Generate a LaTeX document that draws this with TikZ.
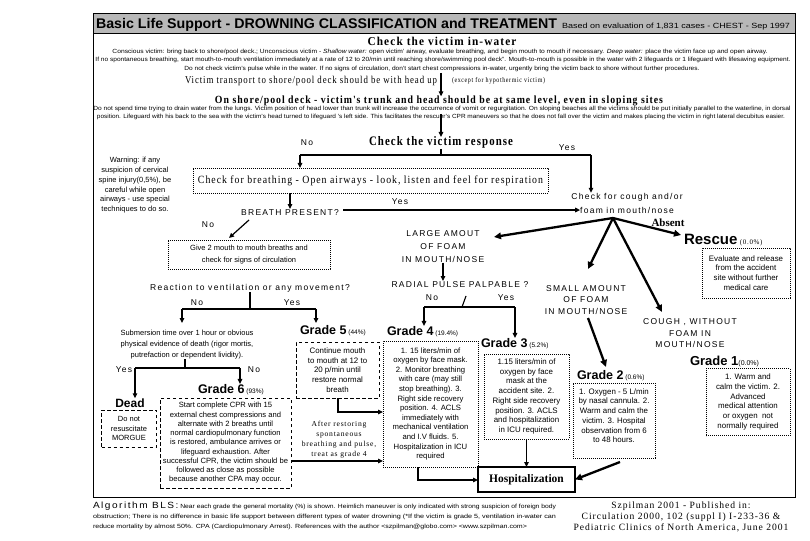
\documentclass[tikz,border=0pt]{standalone}
\usepackage{fontspec}
\usepackage{graphicx}
\setmainfont{Liberation Serif}
\setsansfont{Liberation Sans}
\newfontfamily\sfls{Liberation Sans}[LetterSpace=15]
\newfontfamily\rmls{Liberation Serif}[LetterSpace=10]
\usetikzlibrary{arrows.meta}
\newcommand\fitw[2]{\resizebox{#1pt}{\height}{#2}}
\newcommand\fsz[1]{\fontsize{#1}{#1}\selectfont}
\newcommand\fszl[2]{\fontsize{#1}{#2}\selectfont}
\begin{document}
\begin{tikzpicture}[x=1pt,y=-1pt,
  every node/.style={inner sep=0pt,outer sep=0pt},
  lab/.style={font=\sfls\fsz{8.5}},
  arr/.style={-{Triangle[length=5pt,width=4.5pt]},line width=1.2pt},
  bigarr/.style={-{Triangle[length=7pt,width=6.5pt]},line width=2.3pt},
  plain/.style={line width=1.1pt},
  dotbox/.style={draw,line width=0.7pt,dash pattern=on 0.7pt off 1.3pt},
  dashbox/.style={draw,line width=0.8pt,dash pattern=on 3.5pt off 2.5pt},
  boxtxt/.style={align=center,font=\sffamily\fszl{7.9}{9.7}},
  gradeh/.style={anchor=base west,font=\sffamily\bfseries\fsz{12.5}},
  small/.style={font=\sffamily\fsz{6}},
]
\useasboundingbox (0,0) rectangle (810,540);
% frame and title band
\fill[black!28] (93,13) rectangle (795,33);
\draw[line width=0.8pt] (93,13) rectangle (795,497);
\draw[line width=0.8pt] (93,33) -- (795,33);
\node[anchor=base west,font=\sffamily\bfseries\fsz{14}] (title) at (96,29) {\fitw{461}{Basic Life Support - DROWNING CLASSIFICATION and TREATMENT}};
\node[anchor=base west,font=\sffamily\fsz{7.5}] (based) at (562,29) {\fitw{228}{Based on evaluation of 1,831 cases - CHEST - Sep 1997}};
% in-water
\node[anchor=base,font=\rmls\bfseries\fsz{12}] (chkw) at (442,46) {\fitw{149}{Check the victim in-water}};
\node[anchor=base,small] (l1) at (440,54) {\fitw{655}{Conscious victim: bring back to shore/pool deck.; Unconscious victim - \textit{Shallow water:} open victim' airway, evaluate breathing, and begin mouth to mouth if necessary. \textit{Deep water:} place the victim face up and open airway.}};
\node[anchor=base,small] (l2) at (443,62) {\fitw{695}{If no spontaneous breathing, start mouth-to-mouth ventilation immediately at a rate of 12 to 20/min until reaching shore/swimming pool deck". Mouth-to-mouth is possible in the water with 2 lifeguards or 1 lifeguard with lifesaving equipment.}};
\node[anchor=base,small] (l3) at (442,71) {\fitw{515}{Do not check victim's pulse while in the water. If no signs of circulation, don't start chest compressions in-water, urgently bring the victim back to shore without further procedures.}};
\node[anchor=base west,font=\rmls\fsz{10.5}] (transp) at (185,84) {\fitw{252}{Victim transport to shore/pool deck should be with head up}};
\node[anchor=base west,font=\rmls\fsz{7.2}] (except) at (452,83) {\fitw{93}{(except for hypothermic victim)}};
\node[anchor=base,font=\rmls\bfseries\fsz{11}] (shore) at (439,104) {\fitw{448}{On shore/pool deck - victim's trunk and head should be at same level, even in sloping sites}};
\node[anchor=base,small] (d1) at (442,111) {\fitw{697}{Do not spend time trying to drain water from the lungs. Victim position of head lower than trunk will increase the occurrence of vomit or regurgitation. On sloping beaches all the victims should be put initially parallel to the waterline, in dorsal}};
\node[anchor=base,small] (d2) at (441,119) {\fitw{688}{position. Lifeguard with his back to the sea with the victim's head turned to lifeguard 's left side. This facilitates the rescuer's CPR maneuvers so that he does not fall over the victim and makes placing the victim in right lateral decubitus easier.}};
\coordinate (c1) at (441,73);
\draw[arr] (c1) -- (c1 |- shore.north);
\coordinate (c2) at (441,114);
% response
\node[anchor=base,font=\rmls\bfseries\fsz{13}] (resp) at (441,146) {\fitw{144}{Check the victim response}};
\draw[arr] (c2) -- (c2 |- resp.north);
\node[anchor=base,lab] (noR) at (307,146) {No};
\node[anchor=base,lab] (yesR) at (567,150) {Yes};
\coordinate (rb) at (441,155);
\coordinate (rl) at (300,155);
\coordinate (rr) at (591,155);
\draw[plain] (resp.south) -- (rb);
\draw[plain] (rl) -- (rr);
% warning
\node[align=center,font=\sffamily\fszl{7.5}{9.8}] (warn) at (135,185.3) {Warning: if any\\suspicion of cervical\\spine injury(0,5\%), be\\careful while open\\airways - use special\\techniques to do so.};
% breathing
\node[dotbox,minimum width=355pt,minimum height=25pt,font=\rmls\fsz{11}] (breath) at (370.5,180.5) {\fitw{345}{Check for breathing - Open airways - look, listen and feel for respiration}};
\draw[arr] (rl) -- (rl |- breath.north);
\node[anchor=base,lab] (bp) at (290,215) {BREATH PRESENT?};
\draw[arr] (bp.north |- breath.south) -- (bp.north);
\node[anchor=base,lab] (yesB) at (400,204) {Yes};
\node[anchor=base,lab] (cough1) at (627,199) {Check for cough and/or};
\node[anchor=base,lab] (cough2) at (627,213) {foam in mouth/nose};
\draw[arr] (rr) -- (rr |- cough1.north);
\coordinate (ys) at (343,210);
\draw[arr] (ys) -- (ys -| cough2.west);
\node[anchor=base,font=\bfseries\fsz{11}] (absent) at (668,226) {Absent};
\node[anchor=base west] (rescH) at (684,244) {\sffamily\bfseries\fsz{15}Rescue\rmls\mdseries\fsz{7}\ (0.0\%)};
\node[dotbox,minimum width=88pt,minimum height=50pt,boxtxt] (rescB) at (746,273) {Evaluate and release\\from the accident\\site without further\\medical care};
% foam branches
\node[align=center,font=\sfls\fszl{8.5}{13}] (large) at (443,246.5) {LARGE AMOUT\\OF FOAM\\IN MOUTH/NOSE};
\coordinate (jn) at (613,218);
\coordinate (la) at (494,237);
\coordinate (ab) at (681,235);
\coordinate (sm) at (588,269);
\coordinate (cg) at (662,312);
\draw[bigarr] (jn) -- (la);
\draw[bigarr] (jn) -- (ab);
\draw[bigarr] (jn) -- (sm);
\draw[bigarr] (jn) -- (cg);
% no breath
\node[anchor=base,lab] (noB) at (208,227) {No};
\coordinate (nd) at (249,220);
\coordinate (nd2) at (229,238);
\draw[arr] (nd) -- (nd2);
\node[dotbox,minimum width=162pt,minimum height=29pt,align=center,font=\sffamily\fszl{7.5}{12}] (give) at (249,254.5) {Give 2 mouth to mouth breaths and\\check for signs of circulation};
\node[anchor=base,lab] (react) at (250,290) {Reaction to ventilation or any movement?};
\coordinate (rt) at (250,309);
\coordinate (rtl) at (182,309);
\coordinate (rtr) at (316,309);
\draw[plain] (react.south) -- (rt);
\draw[plain] (rtl) -- (rtr);
\draw[arr] (rtl) -- ++(0,14);
\draw[arr] (rtr) -- ++(0,14);
\node[anchor=base,lab] (noRe) at (197,305) {No};
\node[anchor=base,lab] (yesRe) at (292,305) {Yes};
\node[align=center,font=\sffamily\fszl{7.5}{11}] (subm) at (187,344.8) {Submersion time over 1 hour or obvious\\physical evidence of death (rigor mortis,\\putrefaction or dependent lividity).};
\coordinate (st) at (185,368);
\coordinate (stl) at (135,368);
\coordinate (str) at (240,368);
\draw[plain] (subm.south -| st) -- (st);
\draw[plain] (stl) -- (str);
\node[anchor=base,lab] (yesS) at (124,372) {Yes};
\node[anchor=base,lab] (noS) at (254,372) {No};
% dead
\node[anchor=base,font=\sffamily\bfseries\fsz{12}] (deadH) at (130,407) {Dead};
\node[dashbox,minimum width=55pt,minimum height=37pt,align=center,font=\sffamily\fszl{7.5}{9.5}] (deadB) at (129,428.5) {Do not\\resuscitate\\MORGUE};
\draw[arr] (stl) -- (stl |- deadH.north);
% grade 6
\node[gradeh] (g6H) at (198,393) {Grade 6\mdseries\fsz{6.5}\ (93\%)};
\draw[arr] (str) -- (str |- g6H.north);
\node[dashbox,minimum width=131pt,minimum height=90pt,align=center,font=\sffamily\fszl{7.6}{9.25}] (g6B) at (225.5,443) {Start complete CPR with 15\\external chest compressions and\\alternate with 2 breaths until\\normal cardiopulmonary function\\is restored, ambulance arrives or\\lifeguard exhaustion. After\\successful CPR, the victim should be\\followed as close as possible\\because another CPA may occur.};
% grade 5
\node[gradeh] (g5H) at (300,334) {Grade 5\mdseries\fsz{6.5}\ (44\%)};
\node[dashbox,minimum width=83pt,minimum height=56pt,boxtxt] (g5B) at (337.5,370) {Continue mouth\\to mouth at 12 to\\20 p/min until\\restore normal\\breath};
\node[align=center,font=\rmls\fszl{7.6}{10}] (after) at (339,440) {After restoring\\spontaneous\\breathing and pulse,\\treat as grade 4};
% radial
\node[anchor=base,lab] (radial) at (460,287) {RADIAL PULSE PALPABLE ?};
\draw[arr] (large.south) -- (large.south |- radial.north);
\node[anchor=base,lab] (noP) at (432,300) {No};
\node[anchor=base,lab] (yesP) at (506,300) {Yes};
\coordinate (pt0) at (466,296);
\coordinate (pt) at (462,307);
\coordinate (ptl) at (424,307);
\coordinate (ptr) at (515,307);
\draw[plain] (pt0) -- (pt);
\draw[plain] (ptl) -- (ptr);
% grade 4
\node[gradeh] (g4H) at (387,335) {Grade 4\mdseries\fsz{6.5}\ (19.4\%)};
\draw[arr] (ptl) -- (ptl |- g4H.north);
\node[dotbox,minimum width=95pt,minimum height=126pt,boxtxt,font=\sffamily\fszl{7.7}{9.6}] (g4B) at (430.5,404) {1. 15 liters/min of\\oxygen by face mask.\\2. Monitor breathing\\with care (may still\\stop breathing). 3.\\Right side recovery\\position. 4. ACLS\\immediately with\\mechanical ventilation\\and I.V fluids. 5.\\Hospitalization in ICU\\required};
\coordinate (e5) at (338,412);
\draw[arr] (g5B.south -| e5) -- (e5) -- (e5 -| g4B.west);
\coordinate (e6) at (292,461);
\draw[arr] (g6B.east |- e6) -- (g4B.west |- e6);
% grade 3
\node[gradeh] (g3H) at (481,347) {Grade 3\mdseries\fsz{6.5}\ (5.2\%)};
\draw[arr] (ptr) -- (ptr |- g3H.north);
\node[dotbox,minimum width=85pt,minimum height=85pt,boxtxt] (g3B) at (526.5,396.5) {1.15 liters/min of\\oxygen by face\\mask at the\\accident site. 2.\\Right side recovery\\position. 3. ACLS\\and hospitalization\\in ICU required.};
% hospitalization
\node[draw,line width=2.5pt,minimum width=97pt,minimum height=25pt,font=\bfseries\fsz{11.5}] (hosp) at (526.5,479.5) {Hospitalization};
\draw[arr] (g3B.south) -- (g3B.south |- hosp.north);
\coordinate (h4) at (418,480);
\draw[arr] (g4B.south -| h4) -- (h4) -- (h4 -| hosp.west);
% small amount / grade 2
\node[align=center,font=\sfls\fszl{8.5}{11.5}] (small) at (586,300) {SMALL AMOUNT\\OF FOAM\\IN MOUTH/NOSE};
\node[gradeh] (g2H) at (577,379) {Grade 2\mdseries\fsz{6.5}\ (0.6\%)};
\coordinate (s2a) at (588,318);
\coordinate (s2b) at (606,367);
\draw[bigarr] (s2a) -- (s2b);
\node[dotbox,minimum width=82pt,minimum height=75pt,boxtxt] (g2B) at (614,420.5) {1. Oxygen - 5 L/min\\by nasal cannula. 2.\\Warm and calm the\\victim. 3. Hospital\\observation from 6\\to 48 hours.\\ \mbox{}};
\coordinate (h2) at (620,462);
\draw[bigarr] (h2) -- (hosp.east);
% cough / grade 1
\node[align=center,font=\sfls\fszl{8.5}{11.5}] (cough) at (690,333.5) {COUGH , WITHOUT\\FOAM IN\\MOUTH/NOSE};
\node[gradeh,font=\sffamily\bfseries\fsz{13}] (g1H) at (690,365) {Grade 1\mdseries\fsz{7}(0.0\%)};
\node[dotbox,minimum width=84pt,minimum height=67pt,boxtxt] (g1B) at (748,402) {1. Warm and\\calm the victim. 2.\\Advanced\\medical attention\\or oxygen\ \ not\\normally required};
% footer
\node[anchor=base west,font=\sffamily\fsz{6}] (f1) at (93,508) {\fitw{463}{{\sfls\fsz{9}Algorithm BLS:} Near each grade the general mortality (\%) is shown. Heimlich maneuver is only indicated with strong suspicion of foreign body}};
\node[anchor=base west,font=\sffamily\fsz{6}] (f2) at (93,518) {\fitw{463}{obstruction; There is no difference in basic life support between different types of water drowning (*If the victim is grade 5, ventilation in-water can}};
\node[anchor=base west,font=\sffamily\fsz{6}] (f3) at (93,528) {\fitw{434}{reduce mortality by almost 50\%. CPA (Cardiopulmonary Arrest). References with the author <szpilman@globo.com> <www.szpilman.com>}};
\node[align=center,font=\rmls\fszl{9.6}{11}] (ref) at (681,516.5) {Szpilman 2001 - Published in:\\Circulation 2000, 102 (suppl I) I-233-36 \&\\Pediatric Clinics of North America, June 2001};
\end{tikzpicture}
\end{document}
